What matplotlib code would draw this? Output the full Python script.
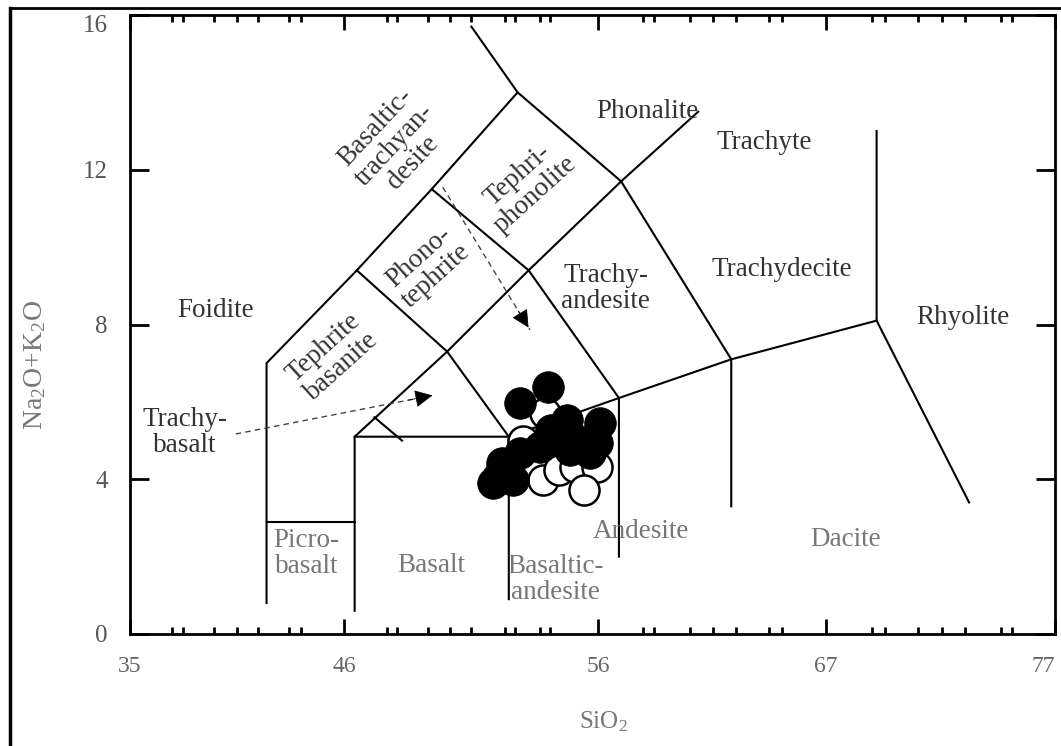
import matplotlib.pyplot as plt
from matplotlib.lines import Line2D

plt.rcParams['font.family'] = ['Liberation Serif', 'DejaVu Serif']
plt.rcParams['mathtext.fontset'] = 'custom'
plt.rcParams['mathtext.rm'] = 'Liberation Serif'
plt.rcParams['mathtext.it'] = 'Liberation Serif:italic'

# field boundaries (SiO2, Na2O+K2O)
foidite_edge = [(41.2, 0.8), (41.2, 7.0), (45.3, 9.4), (48.7, 11.5), (52.6, 14.0), (50.5, 15.7)]
picro_top = [(41.2, 2.9), (45.2, 2.9)]
alkaline_diag = [(45.2, 0.6), (45.2, 5.1), (49.4, 7.3), (53.1, 9.4), (57.3, 11.7), (60.8, 13.5)]
subalk_line = [(45.2, 5.1), (52.2, 5.1), (57.2, 6.1), (62.3, 7.1), (68.9, 8.1)]
phonotephrite_low = [(45.3, 9.4), (49.4, 7.3), (52.2, 5.1), (52.2, 0.9)]
tephriphon_low = [(48.7, 11.5), (53.1, 9.4), (57.2, 6.1), (57.2, 2.0)]
phonolite_low = [(52.6, 14.0), (57.3, 11.7), (62.3, 7.1), (62.3, 3.3)]
rhyolite_edge = [(68.9, 13.0), (68.9, 8.1), (73.1, 3.4)]
small_tick = [(46.1, 5.6), (47.35, 5.0)]
boundaries = [foidite_edge, picro_top, alkaline_diag, subalk_line, phonotephrite_low,
              tephriphon_low, phonolite_low, rhyolite_edge, small_tick]

# dashed pointer arrows (start, tip)
arrow_trachybasalt = [(39.8, 5.17), (48.85, 6.18)]
arrow_bta = [(49.2, 11.55), (53.16, 7.86)]

# samples
filled_x = [53.98, 52.71, 54.85, 56.34, 56.2, 54.5, 53.6, 52.7, 51.9, 51.7, 51.5, 52.4, 55.4, 55.9, 55.0, 54.1]
filled_y = [6.38, 5.97, 5.53, 5.45, 4.94, 5.0, 4.83, 4.68, 4.42, 4.06, 3.9, 3.98, 5.0, 4.68, 4.76, 5.27]
open_x = [53.85, 52.85, 53.75, 54.5, 55.2, 56.2, 55.6]
open_y = [5.71, 5.0, 3.98, 4.24, 4.32, 4.32, 3.72]

# field names
field_names = ['Foidite', 'Trachy-\nbasalt', 'Tephrite\nbasanite', 'Phono-\ntephrite',
               'Basaltic-\ntrachyan-\ndesite', 'Tephri-\nphonolite', 'Phonalite', 'Trachyte',
               'Trachy-\nandesite', 'Trachydecite', 'Rhyolite', 'Picro-\nbasalt', 'Basalt',
               'Basaltic-\nandesite', 'Andesite', 'Dacite']
field_x = [38.9, 37.5, 44.2, 48.5, 47.0, 53.0, 58.5, 63.8, 56.6, 64.6, 72.8, 43.0, 48.7, 54.3, 58.2, 67.5]
field_y = [8.35, 5.2, 7.16, 9.5, 12.64, 11.6, 13.5, 12.7, 8.94, 9.41, 8.17, 2.09, 1.78, 1.4, 2.64, 2.43]
field_rot = [0, 0, 42, 42, 47, 42, 0, 0, 0, 0, 0, 0, 0, 0, 0, 0]
field_col = ['#333333'] * 11 + ['#777777'] * 5

x_major = [35, 44.72, 56.25, 66.6, 77]
x_major_labels = ['35', '46', '56', '67', '77']
x_minor = [36.91, 37.41, 38.81, 39.86, 40.81, 42.22, 42.76, 46.67, 47.12, 48.53, 49.53,
           50.48, 52.03, 52.48, 53.62, 54.07, 58.29, 58.79, 60.43, 61.47, 62.51, 64.01,
           64.6, 68.69, 69.28, 70.78, 71.87, 72.91, 74.55, 75.05]
y_major = [0, 4, 8, 12, 16]

W, H = 1061, 746
fig = plt.figure(figsize=(W / 100, H / 100), dpi=100)
ax = fig.add_axes([130 / W, 1 - 634 / H, 925 / W, 619 / H])
ax.set_xlim(35, 77)
ax.set_ylim(0, 16)

for b in boundaries:
    ax.plot([p[0] for p in b], [p[1] for p in b], color='black', lw=1.5, zorder=2)

for (x0, y0), (x1, y1) in [arrow_trachybasalt, arrow_bta]:
    ax.plot([x0, x1], [y0, y1], color='#444444', lw=1.0, ls=(0, (4, 3)), zorder=2)
    ax.annotate('', xy=(x1, y1), xytext=(x0 + 0.85 * (x1 - x0), y0 + 0.85 * (y1 - y0)),
                arrowprops=dict(arrowstyle='-|>', color='black', lw=0.5, mutation_scale=28),
                zorder=3)

ax.scatter(open_x, open_y, s=470, facecolor='white', edgecolor='black', lw=1.8, zorder=4)
ax.scatter(filled_x, filled_y, s=520, facecolor='black', edgecolor='black', lw=0.5, zorder=5)

for name, x, y, r, c in zip(field_names, field_x, field_y, field_rot, field_col):
    ax.text(x, y, name, rotation=r, ha='center', va='center', fontsize=19.5, color=c,
            linespacing=1.05, rotation_mode='anchor', zorder=6)

for s in ax.spines.values():
    s.set_linewidth(2)
ax.set_xticks(x_major)
ax.set_xticklabels(x_major_labels)
ax.set_xticks(x_minor, minor=True)
ax.set_yticks(y_major)
ax.tick_params(axis='x', which='major', direction='in', length=11, width=2, top=True,
               labelsize=17, labelcolor='#666666', pad=16)
ax.tick_params(axis='x', which='minor', direction='in', length=5, width=2, top=True)
ax.tick_params(axis='y', which='major', direction='in', length=14, width=2, right=True,
               labelsize=18, labelcolor='#555555', pad=16)
ax.get_xticklabels()[-1].set_ha('right')
ax.get_yticklabels()[-1].set_va('top')

fig.text(603 / W, 1 - 722 / H, 'SiO$_2$', ha='center', va='center', fontsize=18, color='#777777')
fig.text(35 / W, 1 - 365 / H, 'Na$_2$O+K$_2$O', ha='center', va='center', rotation=90,
         fontsize=20, color='#777777')

# scan frame
fig.add_artist(Line2D([10 / W, 10 / W], [0, 1 - 8 / H], transform=fig.transFigure, color='black', lw=2.5))
fig.add_artist(Line2D([10 / W, 1], [1 - 8 / H, 1 - 8 / H], transform=fig.transFigure, color='black', lw=2))

fig.savefig('out.png', dpi=100)
